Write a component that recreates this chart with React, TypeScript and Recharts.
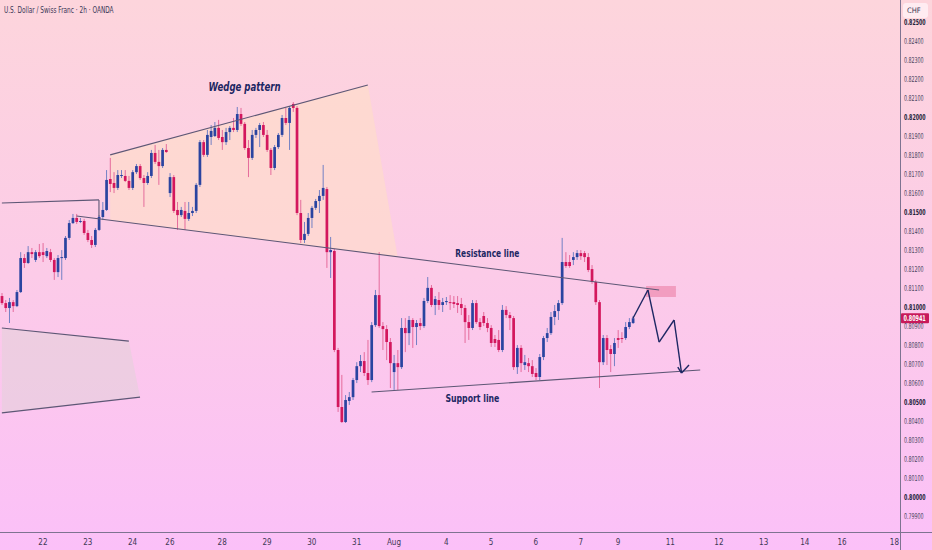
import { Area, Bar, ComposedChart, ReferenceArea, ReferenceDot, ReferenceLine, XAxis, YAxis } from 'recharts'

// 2h candles (price in CHF)
const opens = [
  0.81058, 0.81021, 0.80995, 0.81026, 0.81005, 0.81079, 0.81258, 0.81232, 0.81289, 0.81248,
  0.81289, 0.81289, 0.81268, 0.81289, 0.81248, 0.81184, 0.81258, 0.81258, 0.81364, 0.81442,
  0.81469, 0.81448, 0.81453, 0.8139, 0.81353, 0.81327, 0.81406, 0.81474, 0.81511, 0.81674,
  0.81653, 0.81627, 0.8169, 0.8169, 0.81664, 0.81627, 0.8171, 0.81742, 0.81679, 0.81653,
  0.8169, 0.81811, 0.81764, 0.81742, 0.81827, 0.816, 0.81684, 0.81511, 0.81484, 0.81506,
  0.81464, 0.81495, 0.81506, 0.81643, 0.81868, 0.81801, 0.81895, 0.819, 0.81943, 0.81895,
  0.81868, 0.81921, 0.81943, 0.81932, 0.82016, 0.81964, 0.81837, 0.81785, 0.81906, 0.81932,
  0.81958, 0.81906, 0.81827, 0.81732, 0.81842, 0.81906, 0.81995, 0.81969, 0.82069, 0.82048,
  0.81495, 0.81353, 0.81385, 0.81469, 0.81522, 0.81558, 0.81585, 0.81621, 0.81289, 0.81295,
  0.80774, 0.80474, 0.80395, 0.80506, 0.80526, 0.80616, 0.80689, 0.80716, 0.80653, 0.80616,
  0.80905, 0.81063, 0.809, 0.80884, 0.80816, 0.80658, 0.80705, 0.80684, 0.8089, 0.80863,
  0.80932, 0.80895, 0.80916, 0.809, 0.81032, 0.81101, 0.81011, 0.81037, 0.81011, 0.81026,
  0.81026, 0.81026, 0.81021, 0.81016, 0.80995, 0.80921, 0.8089, 0.81021, 0.80921, 0.80953,
  0.80916, 0.8089, 0.80832, 0.80827, 0.80774, 0.80985, 0.80958, 0.80942, 0.80684, 0.80785,
  0.80695, 0.80705, 0.80689, 0.80653, 0.80632, 0.80737, 0.80837, 0.80863, 0.80948, 0.80979,
  0.81021, 0.81237, 0.81237, 0.81248, 0.81263, 0.81284, 0.81284, 0.81263, 0.812, 0.81132,
  0.81026, 0.8071, 0.80837, 0.80779, 0.80753, 0.80837, 0.80837, 0.80837, 0.80895, 0.80916,
]
const highs = [
  0.81074, 0.81037, 0.81048, 0.81037, 0.8109, 0.81289, 0.81279, 0.81321, 0.81311, 0.813,
  0.81332, 0.81337, 0.81311, 0.81306, 0.81258, 0.81274, 0.813, 0.81374, 0.81458, 0.8149,
  0.8149, 0.81469, 0.81464, 0.81406, 0.81374, 0.81416, 0.81484, 0.81553, 0.81721, 0.81785,
  0.8171, 0.81721, 0.81721, 0.81721, 0.8169, 0.81721, 0.81753, 0.81753, 0.81695, 0.8171,
  0.81827, 0.81853, 0.81827, 0.81837, 0.81858, 0.81705, 0.81695, 0.81553, 0.81527, 0.81553,
  0.81553, 0.81527, 0.81653, 0.81879, 0.81879, 0.81932, 0.81958, 0.81974, 0.81985, 0.81932,
  0.81943, 0.81953, 0.81995, 0.82053, 0.82048, 0.81974, 0.81879, 0.81932, 0.81943, 0.81969,
  0.81974, 0.81932, 0.81837, 0.81853, 0.81916, 0.82011, 0.82048, 0.82058, 0.82079, 0.82058,
  0.81564, 0.81448, 0.81495, 0.81532, 0.81569, 0.81616, 0.81748, 0.81632, 0.81369, 0.81306,
  0.80785, 0.80643, 0.80537, 0.80553, 0.80627, 0.8071, 0.80748, 0.80763, 0.80827, 0.80921,
  0.8109, 0.81289, 0.80921, 0.80905, 0.80837, 0.80748, 0.80774, 0.80942, 0.80942, 0.80953,
  0.80942, 0.80932, 0.80942, 0.81048, 0.81158, 0.81116, 0.81058, 0.81079, 0.81048, 0.81053,
  0.81063, 0.81058, 0.81058, 0.81048, 0.81011, 0.80958, 0.81037, 0.81037, 0.80942, 0.80974,
  0.80942, 0.80905, 0.80853, 0.80879, 0.81011, 0.81005, 0.80974, 0.80953, 0.808, 0.808,
  0.80748, 0.80732, 0.80721, 0.80679, 0.80753, 0.80848, 0.8089, 0.80974, 0.81011, 0.81037,
  0.81364, 0.81289, 0.81274, 0.81289, 0.813, 0.813, 0.81295, 0.81284, 0.81221, 0.81143,
  0.81037, 0.80853, 0.80853, 0.808, 0.80837, 0.80879, 0.80868, 0.80921, 0.80942, 0.80953,
]
const lows = [
  0.81011, 0.80974, 0.80916, 0.80974, 0.81, 0.81074, 0.81206, 0.81227, 0.81258, 0.81237,
  0.81258, 0.81237, 0.81258, 0.81237, 0.81143, 0.81158, 0.81143, 0.81248, 0.81353, 0.81437,
  0.81437, 0.81442, 0.8138, 0.81342, 0.81311, 0.81316, 0.81401, 0.81458, 0.81506, 0.81605,
  0.816, 0.81616, 0.81679, 0.81658, 0.81616, 0.81616, 0.817, 0.81669, 0.81527, 0.81643,
  0.81679, 0.81753, 0.81643, 0.81732, 0.81811, 0.81579, 0.81495, 0.81406, 0.81474, 0.81406,
  0.81453, 0.81479, 0.81495, 0.81632, 0.8179, 0.8179, 0.81853, 0.81895, 0.81879, 0.81827,
  0.81853, 0.81879, 0.81921, 0.81921, 0.81953, 0.81827, 0.81684, 0.81774, 0.8189, 0.81842,
  0.81895, 0.81816, 0.81695, 0.81721, 0.81832, 0.81895, 0.81958, 0.81827, 0.82027, 0.81484,
  0.81337, 0.81337, 0.81374, 0.81416, 0.81511, 0.81495, 0.81564, 0.81206, 0.81153, 0.80763,
  0.80448, 0.8039, 0.8039, 0.80485, 0.80511, 0.806, 0.80658, 0.80637, 0.8059, 0.80605,
  0.80895, 0.8089, 0.80774, 0.80721, 0.80574, 0.80564, 0.80564, 0.80674, 0.80763, 0.808,
  0.80785, 0.808, 0.80879, 0.8089, 0.81021, 0.81, 0.80958, 0.80985, 0.80974, 0.81011,
  0.80985, 0.80995, 0.80969, 0.80958, 0.80811, 0.80827, 0.80879, 0.80911, 0.80879, 0.809,
  0.80868, 0.8079, 0.8079, 0.80763, 0.80763, 0.80942, 0.80879, 0.80669, 0.80648, 0.80658,
  0.80669, 0.80658, 0.80632, 0.80616, 0.80616, 0.80721, 0.80816, 0.80853, 0.80905, 0.80932,
  0.81011, 0.81206, 0.81206, 0.81221, 0.81248, 0.81248, 0.81237, 0.81184, 0.81122, 0.81011,
  0.80574, 0.80695, 0.80695, 0.80658, 0.80689, 0.80785, 0.80811, 0.80827, 0.80884, 0.80911,
]
const closes = [
  0.81021, 0.80995, 0.81026, 0.81005, 0.81079, 0.81258, 0.81232, 0.81289, 0.81279, 0.81289,
  0.81268, 0.81274, 0.81295, 0.81248, 0.81184, 0.81258, 0.81263, 0.81364, 0.81442, 0.81469,
  0.81448, 0.81453, 0.8139, 0.81353, 0.81327, 0.81406, 0.81474, 0.81511, 0.81669, 0.81648,
  0.81627, 0.81695, 0.81695, 0.81664, 0.81627, 0.8171, 0.81742, 0.81679, 0.81653, 0.8169,
  0.81811, 0.81764, 0.81742, 0.81827, 0.81816, 0.81684, 0.81506, 0.81484, 0.81511, 0.81464,
  0.81495, 0.81506, 0.81643, 0.81868, 0.81801, 0.81906, 0.81927, 0.81943, 0.8189, 0.81868,
  0.81921, 0.81943, 0.81932, 0.82016, 0.81964, 0.81837, 0.81785, 0.81906, 0.81932, 0.81958,
  0.81906, 0.81827, 0.81732, 0.81842, 0.81906, 0.81995, 0.81969, 0.82048, 0.82048, 0.81495,
  0.81353, 0.81385, 0.81469, 0.81522, 0.81558, 0.81585, 0.81627, 0.81289, 0.813, 0.80774,
  0.80474, 0.80395, 0.80511, 0.80526, 0.80616, 0.80689, 0.80716, 0.80653, 0.80616, 0.80905,
  0.81063, 0.809, 0.80884, 0.80816, 0.80705, 0.80705, 0.80684, 0.8089, 0.80863, 0.80932,
  0.80895, 0.80916, 0.809, 0.81032, 0.81101, 0.81011, 0.81042, 0.81011, 0.81026, 0.81032,
  0.81021, 0.81016, 0.81011, 0.80995, 0.80921, 0.8089, 0.81021, 0.80921, 0.80895, 0.80916,
  0.8089, 0.80811, 0.80811, 0.80774, 0.80985, 0.80958, 0.80942, 0.80684, 0.80785, 0.80705,
  0.8071, 0.80689, 0.80648, 0.80632, 0.80737, 0.80837, 0.80863, 0.80948, 0.80979, 0.81021,
  0.81237, 0.81216, 0.81216, 0.81263, 0.81284, 0.81268, 0.81263, 0.81195, 0.81132, 0.81026,
  0.8071, 0.80837, 0.80774, 0.80753, 0.80811, 0.80827, 0.80832, 0.80895, 0.80921, 0.80941,
]

// time slots on the axis (candles + empty space on the right)
const SLOTS = 241
const xTickSlots = [11, 23, 35, 45, 59, 71, 83, 95, 105, 119, 131, 143, 155, 165, 179, 192, 204, 215, 225, 239]
const xTickLabels = ['22', '23', '24', '26', '28', '29', '30', '31', 'Aug', '4', '5', '6', '7', '9', '11', '12', '13', '14', '16', '18']
const yTicks = [
  0.799, 0.8, 0.801, 0.802, 0.803, 0.804, 0.805, 0.806, 0.807, 0.808, 0.809, 0.81, 0.811,
  0.812, 0.813, 0.814, 0.815, 0.816, 0.817, 0.818, 0.819, 0.82, 0.821, 0.822, 0.823, 0.824, 0.825,
]

// drawings (slot, price)
const resistancePts = [{ x: 20, y: 0.81479 }, { x: 176, y: 0.8109 }]
const supportPts = [{ x: 99, y: 0.80553 }, { x: 187, y: 0.80669 }]
const wedgeTopPts = [{ x: 29, y: 0.81801 }, { x: 98, y: 0.82169 }]
const oldChannelPts = [{ x: 0, y: 0.81548 }, { x: 26, y: 0.81564 }, { x: 26, y: 0.81474 }]
const lowerTopPts = [{ x: 0, y: 0.8089 }, { x: 34, y: 0.80821 }]
const lowerBottomPts = [{ x: 0, y: 0.80443 }, { x: 37, y: 0.80526 }]
const forecastPts = [
  { x: 169, y: 0.80941 }, { x: 173, y: 0.8109 }, { x: 176, y: 0.80816 }, { x: 180, y: 0.80932 }, { x: 182, y: 0.80653 },
]
const arrowHeadPts = [{ x: 181, y: 0.80684 }, { x: 182, y: 0.80653 }, { x: 184, y: 0.80695 }]
const wedgeZone = [
  { x: 29, lo: 0.81458, hi: 0.81801 }, { x: 98, lo: 0.81284, hi: 0.82169 }, { x: 106, lo: 0.81263, hi: 0.81263 },
]
const lowerZone = [
  { x: 0, lo: 0.80443, hi: 0.8089 }, { x: 34, lo: 0.80521, hi: 0.80821 }, { x: 37, lo: 0.80526, hi: 0.80526 },
]
const targetBox = { x1: 173, x2: 180, y1: 0.81053, y2: 0.81111 }
const notes = [
  { x: 65, y: 0.82158, text: 'Wedge pattern', size: 12, width: 72, italic: true },
  { x: 130, y: 0.81284, text: 'Resistance line', size: 10.5, width: 64, italic: false },
  { x: 126, y: 0.80521, text: 'Support line', size: 10.5, width: 54, italic: false },
]

const UP = '#2a44a0'
const DOWN = '#d3175d'
const INK = '#1d2763'
const LINE = '#5d5775'
const NARROW = '"Liberation Sans Narrow", "DejaVu Sans Condensed", Roboto, sans-serif'

const rows = Array.from({ length: SLOTS }, (_, i) => {
  const row: any = { i }
  if (i < closes.length) {
    row.o = opens[i]
    row.h = highs[i]
    row.l = lows[i]
    row.c = closes[i]
    row.range = [lows[i], highs[i]]
  }
  const w = wedgeZone.find((z) => z.x === i)
  if (w) row.wedge = [w.lo, w.hi]
  const z = lowerZone.find((p) => p.x === i)
  if (z) row.lower = [z.lo, z.hi]
  return row
})

function Candle(props: any) {
  const { x, y, width, height, payload } = props
  if (payload == null || payload.o == null) return null
  const top = Math.min(y, y + height)
  const span = Math.abs(height)
  const { o, h, l, c } = payload
  const toY = (p: number) => top + ((h - p) / (h - l || 1)) * span
  const up = c >= o
  const cx = x + width / 2
  const bodyTop = toY(Math.max(o, c))
  const bodyH = Math.max(toY(Math.min(o, c)) - bodyTop, 1)
  return (
    <g>
      <line x1={cx} x2={cx} y1={top} y2={top + span} stroke={up ? '#7380c4' : '#e56c9c'} strokeWidth={1} />
      <rect x={cx - 1.35} y={bodyTop} width={2.7} height={bodyH} fill={up ? UP : DOWN} />
    </g>
  )
}

// axis text is condensed, as on the original terminal
function PriceTick({ x, y, payload }: any) {
  const v = payload.value as number
  const major = Math.abs(v * 1000 - Math.round(v * 200) * 5) < 0.01
  return (
    <g transform={`translate(${x} ${y + 3}) scale(0.66 1)`}>
      <text x={0} y={0} fontSize={8} fontFamily={NARROW} fill={major ? '#221e38' : '#4a4560'} fontWeight={major ? 600 : 400}>
        {v.toFixed(5)}
      </text>
    </g>
  )
}

function PriceTag({ viewBox }: any) {
  if (!viewBox) return null
  const x = viewBox.x + viewBox.width + 1
  return (
    <g>
      <rect x={x} y={viewBox.y - 5} width={28} height={10} fill="#c8195a" rx={1} />
      <g transform={`translate(${x + 2.5} ${viewBox.y + 3}) scale(0.68 1)`}>
        <text x={0} y={0} fontSize={8} fontFamily={NARROW} fontWeight={600} fill="#ffffff">
          {closes[closes.length - 1].toFixed(5)}
        </text>
      </g>
    </g>
  )
}

function Note({ viewBox, note }: any) {
  if (!viewBox) return null
  const cx = viewBox.x + (viewBox.width || 0) / 2
  const cy = viewBox.y + (viewBox.height || 0) / 2
  return (
    <text
      x={cx}
      y={cy}
      dy={note.size * 0.35}
      textAnchor="middle"
      fontSize={note.size}
      fontWeight={700}
      fontStyle={note.italic ? 'italic' : 'normal'}
      fontFamily={NARROW}
      fill={INK}
      textLength={note.width}
      lengthAdjust="spacingAndGlyphs"
    >
      {note.text}
    </text>
  )
}

function segments(pts: { x: number; y: number }[]) {
  return pts.slice(1).map((p, k) => [pts[k], p])
}

export default function App() {
  const lineSets = [
    { pts: resistancePts, color: LINE, w: 1.1 },
    { pts: supportPts, color: LINE, w: 1.1 },
    { pts: wedgeTopPts, color: LINE, w: 1.1 },
    { pts: oldChannelPts, color: LINE, w: 1.1 },
    { pts: lowerTopPts, color: LINE, w: 1.1 },
    { pts: lowerBottomPts, color: LINE, w: 1.1 },
    { pts: forecastPts, color: INK, w: 1.4 },
    { pts: arrowHeadPts, color: INK, w: 1.4 },
  ]
  return (
    <div
      style={{
        position: 'relative',
        width: 932,
        height: 550,
        background: 'linear-gradient(to bottom, #fdd5dc 0%, #fccbe8 50%, #fbc0f8 100%)',
        overflow: 'hidden',
      }}
    >
      <style>{'body{margin:0}'}</style>
      <ComposedChart width={932} height={550} data={rows} margin={{ top: 0, right: 0, left: 0, bottom: 0 }} barCategoryGap={0}>
        <XAxis
          dataKey="i"
          type="category"
          height={17}
          ticks={xTickSlots}
          interval={0}
          tickFormatter={(v: number) => xTickLabels[xTickSlots.indexOf(v)] ?? ''}
          tick={{ fontSize: 8, fill: '#3d3855', fontFamily: NARROW }}
          tickSize={0}
          tickMargin={6}
          axisLine={false}
          tickLine={false}
        />
        <YAxis
          orientation="right"
          width={32}
          domain={[0.79811, 0.82616]}
          allowDataOverflow
          ticks={yTicks}
          interval={0}
          tick={<PriceTick />}
          tickSize={0}
          tickMargin={4}
          axisLine={false}
          tickLine={false}
        />
        <Area
          dataKey="wedge"
          type="linear"
          connectNulls
          stroke="none"
          fill="#ffe2c2"
          fillOpacity={0.5}
          dot={false}
          activeDot={false}
          isAnimationActive={false}
        />
        <Area
          dataKey="lower"
          type="linear"
          connectNulls
          stroke="none"
          fill="#e2d2d8"
          fillOpacity={0.55}
          dot={false}
          activeDot={false}
          isAnimationActive={false}
        />
        <Bar dataKey="range" shape={<Candle />} isAnimationActive={false} />
        {lineSets.flatMap((s, n) =>
          segments(s.pts).map((seg, k) => (
            <ReferenceLine key={`l${n}-${k}`} segment={seg} stroke={s.color} strokeWidth={s.w} ifOverflow="visible" />
          )),
        )}
        <ReferenceArea {...targetBox} fill="#e9799f" fillOpacity={0.55} stroke="none" ifOverflow="visible" />
        <ReferenceLine y={closes[closes.length - 1]} stroke="none" strokeOpacity={0} label={<PriceTag />} />
        {notes.map((n) => (
          <ReferenceDot key={n.text} x={n.x} y={n.y} r={0} fill="none" stroke="none" label={<Note note={n} />} />
        ))}
      </ComposedChart>
      <div style={{ position: 'absolute', left: 0, top: 532, width: 932, height: 1, background: '#7e7391' }} />
      <div style={{ position: 'absolute', left: 900, top: 0, width: 1, height: 550, background: '#7e7391' }} />
      <div
        style={{
          position: 'absolute',
          left: 4,
          top: 5,
          fontSize: 8.5,
          fontFamily: NARROW,
          color: '#3b3858',
          whiteSpace: 'nowrap',
          transform: 'scaleX(0.76)',
          transformOrigin: 'left center',
        }}
      >
        U.S. Dollar / Swiss Franc · 2h · OANDA
      </div>
      <div
        style={{
          position: 'absolute',
          left: 903,
          top: 3,
          width: 25,
          height: 15,
          borderRadius: 3,
          background: 'rgba(255,240,245,0.85)',
          fontSize: 7.5,
          fontFamily: NARROW,
          color: '#3b3858',
          lineHeight: '15px',
          paddingLeft: 4,
          boxSizing: 'border-box',
        }}
      >
        CHF
      </div>
    </div>
  )
}
